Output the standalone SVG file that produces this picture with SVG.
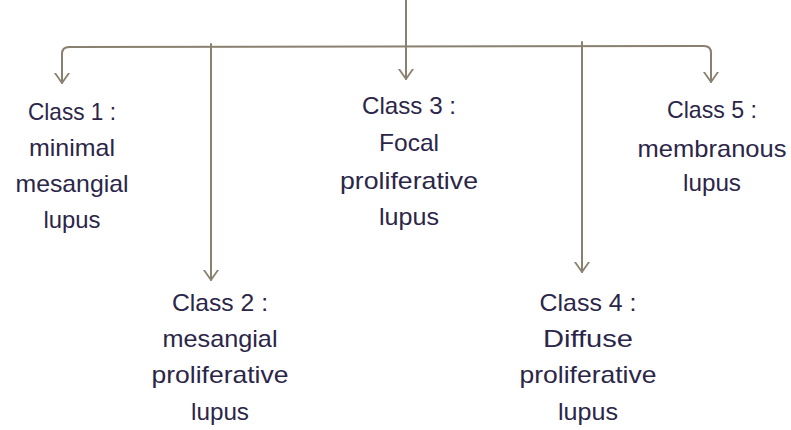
<svg xmlns="http://www.w3.org/2000/svg" width="791" height="430" viewBox="0 0 791 430">
<defs>
<marker id="arr" markerUnits="userSpaceOnUse" markerWidth="20" markerHeight="20" viewBox="-10 -10 20 20" refX="0" refY="0" orient="auto">
<path d="M-10,-7 L0,0 L-10,7" fill="none" stroke="#8a8070" stroke-width="1.8" stroke-linecap="round" stroke-linejoin="round"/>
</marker>
</defs>
<style>
.c{fill:none;stroke:#8a8070;stroke-width:2;stroke-linecap:round;stroke-linejoin:round}
.t{font-family:"Liberation Sans",Arial,sans-serif;font-size:24px;fill:#2b2648;text-anchor:middle}
</style>
<rect width="791" height="430" fill="#ffffff"/>
<g id="connectors">
<path class="c" d="M406,0 L406,79" marker-end="url(#arr)"/>
<path class="c" d="M69,47 L704,46 Q711,46 711,53 L711,82" marker-end="url(#arr)"/>
<path class="c" d="M69,47 Q62,47 62,54 L62,83" marker-end="url(#arr)"/>
<path class="c" d="M211,44 L211,280" marker-end="url(#arr)"/>
<path class="c" d="M582,42 L582,272" marker-end="url(#arr)"/>
</g>
<g id="class1">
<text class="t" x="72" y="120" textLength="88" lengthAdjust="spacingAndGlyphs">Class 1 :</text>
<text class="t" x="72" y="156" textLength="86" lengthAdjust="spacingAndGlyphs">minimal</text>
<text class="t" x="72" y="192" textLength="113" lengthAdjust="spacingAndGlyphs">mesangial</text>
<text class="t" x="72" y="228" textLength="57" lengthAdjust="spacingAndGlyphs">lupus</text>
</g>
<g id="class2">
<text class="t" x="220" y="311" textLength="96" lengthAdjust="spacingAndGlyphs">Class 2 :</text>
<text class="t" x="220" y="347" textLength="115" lengthAdjust="spacingAndGlyphs">mesangial</text>
<text class="t" x="220" y="383" textLength="137" lengthAdjust="spacingAndGlyphs">proliferative</text>
<text class="t" x="220" y="420" textLength="58" lengthAdjust="spacingAndGlyphs">lupus</text>
</g>
<g id="class3">
<text class="t" x="409" y="114" textLength="94" lengthAdjust="spacingAndGlyphs">Class 3 :</text>
<text class="t" x="409" y="151" textLength="60" lengthAdjust="spacingAndGlyphs">Focal</text>
<text class="t" x="409" y="189" textLength="138" lengthAdjust="spacingAndGlyphs">proliferative</text>
<text class="t" x="409" y="225" textLength="60" lengthAdjust="spacingAndGlyphs">lupus</text>
</g>
<g id="class4">
<text class="t" x="588" y="311" textLength="97" lengthAdjust="spacingAndGlyphs">Class 4 :</text>
<text class="t" x="588" y="347" textLength="90" lengthAdjust="spacingAndGlyphs">Diffuse</text>
<text class="t" x="588" y="383" textLength="137" lengthAdjust="spacingAndGlyphs">proliferative</text>
<text class="t" x="588" y="420" textLength="60" lengthAdjust="spacingAndGlyphs">lupus</text>
</g>
<g id="class5">
<text class="t" x="712" y="118" textLength="90" lengthAdjust="spacingAndGlyphs">Class 5 :</text>
<text class="t" x="712" y="157" textLength="149" lengthAdjust="spacingAndGlyphs">membranous</text>
<text class="t" x="712" y="191" textLength="58" lengthAdjust="spacingAndGlyphs">lupus</text>
</g>
</svg>
